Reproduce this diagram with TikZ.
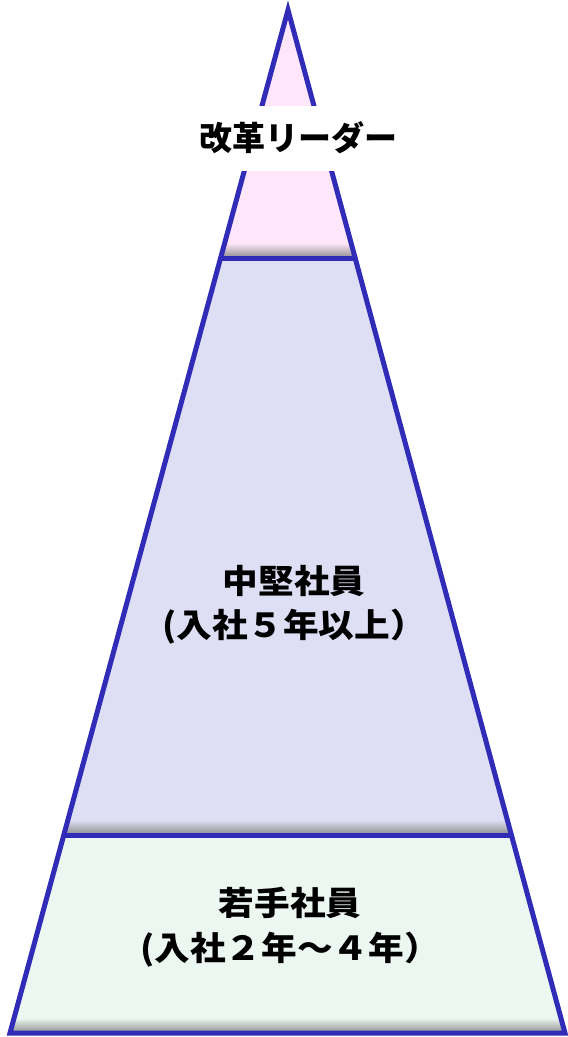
\documentclass[tikz,border=0pt]{standalone}
\usepackage{fontspec}
\newfontfamily\jpfont{Noto Sans CJK JP}
\newfontfamily\jpwide{Noto Sans CJK JP}[FakeStretch=1.08]
\definecolor{topfill}{RGB}{255,230,250}
\definecolor{midfill}{RGB}{222,222,245}
\definecolor{botfill}{RGB}{237,247,242}
\definecolor{edgeblue}{RGB}{48,44,184}
\tikzset{
  edge/.style={draw=edgeblue, line width=5pt},
  lbl/.style={text=black, align=center, inner sep=0pt},
}
\begin{document}
\begin{tikzpicture}[x=1pt,y=-1pt, line join=miter]
\useasboundingbox (0,0) rectangle (568,1037);
\coordinate (A) at (288,10);
\coordinate (L1) at (220.5,258); \coordinate (R1) at (355.5,258);
\coordinate (L2) at (64,835); \coordinate (R2) at (511,835);
\coordinate (L3) at (10,1033); \coordinate (R3) at (565,1033);
% fills
\fill[topfill] (A) -- (L1) -- (R1) -- cycle;
\fill[midfill] (L1) -- (L2) -- (R2) -- (R1) -- cycle;
\fill[botfill] (L2) -- (L3) -- (R3) -- (R2) -- cycle;
% inner shadows
\begin{scope}
  \clip (A) -- (L1) -- (R1) -- cycle;
  \shade[top color=topfill, bottom color=black!45] (200,243) rectangle (380,258);
\end{scope}
\begin{scope}
  \clip (L1) -- (L2) -- (R2) -- (R1) -- cycle;
  \shade[top color=midfill, bottom color=black!45] (50,820) rectangle (530,835);
\end{scope}
\begin{scope}
  \clip (L2) -- (L3) -- (R3) -- (R2) -- cycle;
  \shade[top color=botfill, bottom color=black!45] (0,1018) rectangle (568,1033);
\end{scope}
% outlines
\draw[edge] (L1) -- (R1);
\draw[edge] (L2) -- (R2);
\draw[edge] (A) -- (L3) -- (R3) -- cycle;
% labels
\node[lbl, fill=white, inner xsep=5pt, minimum height=65pt,
  font=\jpfont\bfseries\fontsize{33}{38}\selectfont] (top) at (298,138) {改革リーダー};
\node[lbl, font=\jpwide\bfseries\fontsize{33}{44}\selectfont] (mid) at (294,605)
  {中堅社員\\(入社５年以上）};
\node[lbl, font=\jpwide\bfseries\fontsize{33}{45}\selectfont] (bot) at (290,927)
  {若手社員\\(入社２年～４年）};
\end{tikzpicture}
\end{document}
